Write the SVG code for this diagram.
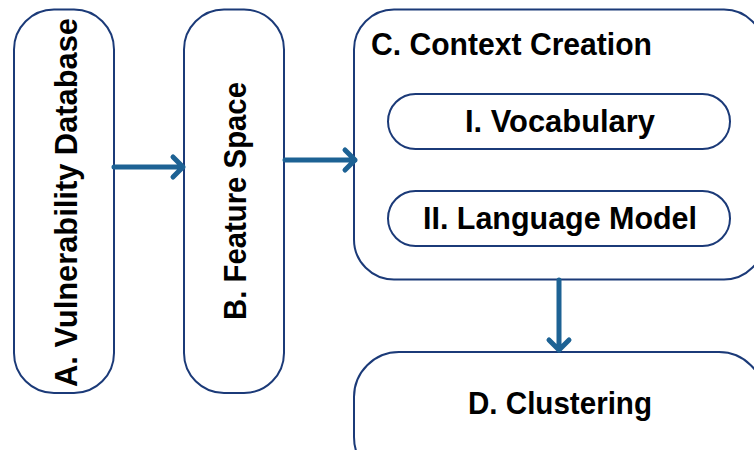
<svg xmlns="http://www.w3.org/2000/svg" width="754" height="450" viewBox="0 0 754 450">
<style>
.box{fill:#fff;stroke:#1b3a78;stroke-width:2}
.t{font-family:"Liberation Sans",Arial,sans-serif;font-weight:bold;font-size:31px;fill:#000}
.c{fill:none;stroke:#1d6294;stroke-width:5;stroke-linecap:round;stroke-linejoin:round}
</style>
<rect width="754" height="450" fill="#fff"/>
<g id="A">
<rect class="box" x="14" y="9.5" width="100" height="383.5" rx="40"/>
<text class="t" text-anchor="middle" textLength="369" lengthAdjust="spacingAndGlyphs" transform="translate(77,202.5) rotate(-90)">A. Vulnerability Database</text>
</g>
<g id="B">
<rect class="box" x="184" y="9.5" width="100" height="383.5" rx="40"/>
<text class="t" text-anchor="middle" textLength="238" lengthAdjust="spacingAndGlyphs" transform="translate(246,201) rotate(-90)">B. Feature Space</text>
</g>
<g id="C">
<rect class="box" x="354" y="9.5" width="410" height="270" rx="40"/>
<text class="t" x="371" y="55" textLength="281" lengthAdjust="spacingAndGlyphs">C. Context Creation</text>
<g id="C1">
<rect class="box" x="388" y="94" width="342" height="55" rx="27.5"/>
<text class="t" x="560" y="132" text-anchor="middle" textLength="190" lengthAdjust="spacingAndGlyphs">I. Vocabulary</text>
</g>
<g id="C2">
<rect class="box" x="388" y="191" width="342" height="55" rx="27.5"/>
<text class="t" x="560" y="229" text-anchor="middle" textLength="274" lengthAdjust="spacingAndGlyphs">II. Language Model</text>
</g>
</g>
<g id="D">
<rect class="box" x="354" y="352" width="410" height="130" rx="45"/>
<text class="t" x="560" y="414" text-anchor="middle" textLength="184" lengthAdjust="spacingAndGlyphs">D. Clustering</text>
</g>
<g id="connectors">
<path class="c" d="M114,167 H183 M173,157 L183,167 L173,177"/>
<path class="c" d="M285,160 H355 M345,150 L355,160 L345,170"/>
<path class="c" d="M559,280 V350 M549,340 L559,350 L569,340"/>
</g>
</svg>
